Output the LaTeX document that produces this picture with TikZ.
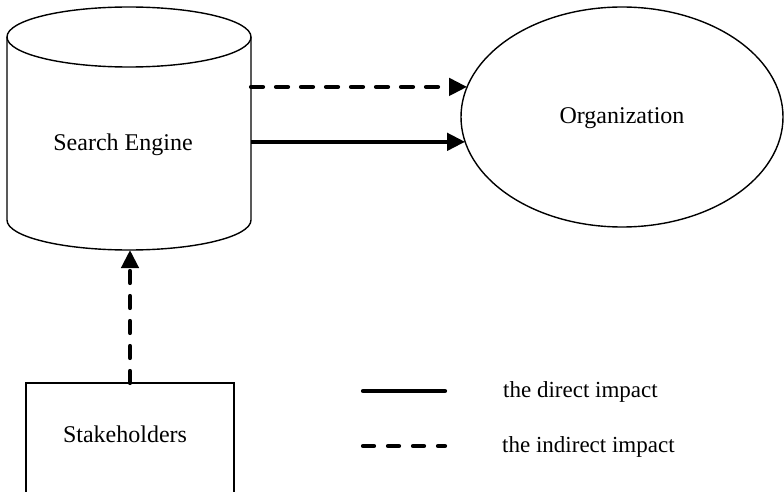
\documentclass[tikz,border=0pt]{standalone}
\usepackage{fontspec}
\setmainfont{Liberation Serif}
\usetikzlibrary{arrows.meta,shapes.geometric}
\tikzset{
  outline/.style={draw=black, line width=1.4pt},
  conn/.style={line width=4.2pt, -{Triangle[length=18pt,width=17pt]}},
  dashconn/.style={conn, line cap=round, dash pattern=on 12pt off 13pt},
  legline/.style={line width=4.2pt, line cap=round},
  legdash/.style={legline, dash pattern=on 11pt off 14pt},
  lbl/.style={font=\fontsize{24}{28}\selectfont, inner sep=0pt},
  leglbl/.style={font=\fontsize{23}{27}\selectfont, inner sep=0pt, anchor=base west}
}
\begin{document}
\begin{tikzpicture}[x=1pt, y=-1pt]
\useasboundingbox (0,0) rectangle (784,492);
% Search Engine cylinder (shape node used for anchors)
\node[minimum width=244pt, minimum height=244pt, inner sep=0pt, outer sep=0pt] (se) at (129,128) {};
\draw[outline] (7,37) -- (7,220) arc[start angle=180, end angle=360, x radius=122pt, y radius=30pt] -- (251,37);
\draw[outline] (129,37) ellipse[x radius=122pt, y radius=30pt];
\node[lbl] (setext) at (123,145) {Search Engine};
% Organization
\node[outline, ellipse, minimum width=322pt, minimum height=220pt, inner sep=0pt, outer sep=0pt] (org) at (622,117) {};
\node[lbl] (orgtext) at (622,118) {Organization};
% Stakeholders
\node[inner sep=0pt, outer sep=0pt, minimum width=208pt, minimum height=220pt] (stk) at (130,493) {};
\draw[outline] (stk.west |- 0,492) -- (stk.north west) -- (stk.north east) -- (stk.east |- 0,492);
\node[lbl] (stktext) at (125,434) {Stakeholders};
% connectors
\coordinate (dtip) at (org.169.8);
\coordinate (stip) at (org.189.6);
\draw[dashconn] (se.east |- dtip) -- (dtip);
\draw[conn] (se.east |- stip) -- (stip);
\draw[dashconn] (stk.north) -- (stk.north |- se.south);
% legend
\coordinate (l1a) at (363,391);
\coordinate (l1b) at (445,391);
\coordinate (l2a) at (363,446);
\coordinate (l2b) at (445,446);
\draw[legline] (l1a) -- (l1b);
\draw[legdash] (l2a) -- (l2b);
\node[leglbl] (leg1) at (503,397) {the direct impact};
\node[leglbl] (leg2) at (502,452) {the indirect impact};
\end{tikzpicture}
\end{document}
